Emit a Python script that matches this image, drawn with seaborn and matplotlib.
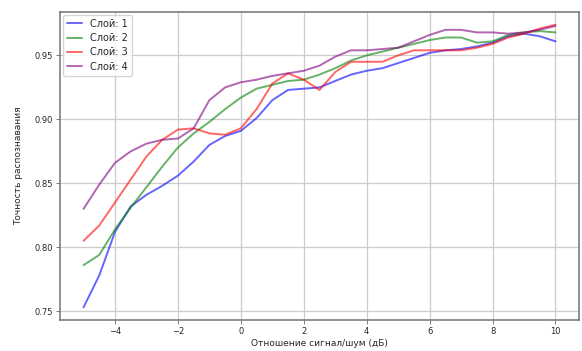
import pandas as pd
import numpy as np
import matplotlib
matplotlib.use("Agg")
import matplotlib.pyplot as plt
import seaborn as sns

# SNR grid (dB), every 0.5 dB
snr = [-5.0, -4.5, -4.0, -3.5, -3.0, -2.5, -2.0, -1.5, -1.0, -0.5,
       0.0, 0.5, 1.0, 1.5, 2.0, 2.5, 3.0, 3.5, 4.0, 4.5,
       5.0, 5.5, 6.0, 6.5, 7.0, 7.5, 8.0, 8.5, 9.0, 9.5, 10.0]

layer1 = [0.753, 0.778, 0.812, 0.832, 0.841, 0.848, 0.856, 0.867, 0.880, 0.887,
          0.891, 0.901, 0.915, 0.923, 0.924, 0.925, 0.930, 0.935, 0.938, 0.940,
          0.944, 0.948, 0.952, 0.954, 0.955, 0.957, 0.960, 0.965, 0.967, 0.965, 0.961]
layer2 = [0.786, 0.794, 0.814, 0.831, 0.847, 0.863, 0.878, 0.889, 0.898, 0.908,
          0.917, 0.924, 0.927, 0.930, 0.931, 0.935, 0.940, 0.946, 0.950, 0.953,
          0.956, 0.959, 0.962, 0.964, 0.964, 0.960, 0.961, 0.966, 0.968, 0.969, 0.968]
layer3 = [0.805, 0.817, 0.835, 0.853, 0.871, 0.884, 0.892, 0.893, 0.889, 0.888,
          0.893, 0.908, 0.928, 0.936, 0.931, 0.923, 0.937, 0.945, 0.945, 0.945,
          0.950, 0.954, 0.954, 0.954, 0.954, 0.956, 0.959, 0.964, 0.967, 0.971, 0.974]
layer4 = [0.830, 0.849, 0.866, 0.875, 0.881, 0.884, 0.885, 0.893, 0.915, 0.925,
          0.929, 0.931, 0.934, 0.936, 0.938, 0.942, 0.949, 0.954, 0.954, 0.955,
          0.956, 0.961, 0.966, 0.970, 0.970, 0.968, 0.968, 0.967, 0.968, 0.970, 0.973]

labels = ["Слой: 1", "Слой: 2", "Слой: 3", "Слой: 4"]
colors = ["blue", "green", "red", "purple"]

df = pd.concat([
    pd.DataFrame({"snr": snr, "acc": vals, "layer": lab})
    for vals, lab in zip([layer1, layer2, layer3, layer4], labels)
])

sns.set_style("whitegrid", {"axes.edgecolor": "0.45", "grid.color": "0.8",
                            "xtick.bottom": True, "ytick.left": True})
plt.rcParams["font.family"] = ["DejaVu Sans"]

fig, ax = plt.subplots(figsize=(5.82, 3.51), dpi=100)
fig.subplots_adjust(left=0.103, right=0.995, top=0.966, bottom=0.088)

sns.lineplot(data=df, x="snr", y="acc", hue="layer", palette=colors,
             linewidth=1.4, alpha=0.6, ax=ax)

ax.set_xlim(-5.75, 10.75)
ax.set_ylim(0.743, 0.984)
ax.set_xticks([-4, -2, 0, 2, 4, 6, 8, 10])
ax.set_yticks([0.75, 0.80, 0.85, 0.90, 0.95])
ax.yaxis.set_major_formatter(matplotlib.ticker.FormatStrFormatter("%.2f"))
ax.tick_params(labelsize=6, length=3, width=0.6, color="0.4", pad=2)
ax.grid(linewidth=0.9)
ax.set_xlabel("Отношение сигнал/шум (дБ)", fontsize=6.5, labelpad=2)
ax.set_ylabel("Точность распознавания", fontsize=6.5, labelpad=8)
for s in ax.spines.values():
    s.set_linewidth(1.1)

leg = ax.legend(loc="upper left", fontsize=7, frameon=True, handlelength=1.6,
                borderaxespad=0.3, labelspacing=0.45)
leg.set_title(None)

plt.savefig("out.png", dpi=100, facecolor="white")
